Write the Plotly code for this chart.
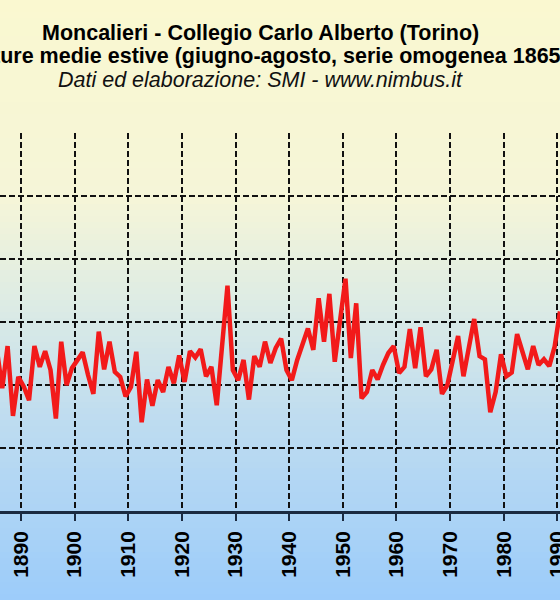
import plotly.graph_objects as go

# Moncalieri summer (Jun-Aug) mean temperature
years = list(range(1885, 1991))
temps = [
    21.56, 20.95, 21.62, 20.51, 21.13,                                  # 1885-1889
    20.98, 20.76, 21.62, 21.29, 21.54, 21.24, 20.47, 21.69, 21.00, 21.27,  # 1890s
    21.41, 21.52, 21.16, 20.86, 21.85, 21.25, 21.69, 21.21, 21.13, 20.82,  # 1900s
    20.97, 21.53, 20.41, 21.09, 20.67, 21.08, 20.89, 21.29, 21.03, 21.47,  # 1910s
    21.05, 21.54, 21.44, 21.57, 21.14, 21.29, 20.68, 21.64, 22.58, 21.24,  # 1920s
    21.08, 21.40, 20.77, 21.46, 21.29, 21.69, 21.35, 21.59, 21.74, 21.24,  # 1930s
    21.08, 21.40, 21.66, 21.90, 21.56, 22.38, 21.69, 22.45, 21.37, 22.09,  # 1940s
    22.69, 21.43, 22.30, 20.79, 20.89, 21.24, 21.09, 21.32, 21.51, 21.62,  # 1950s
    21.19, 21.29, 21.89, 21.27, 21.92, 21.14, 21.25, 21.56, 20.86, 21.00,  # 1960s
    21.40, 21.78, 21.14, 21.61, 22.05, 21.46, 21.41, 20.57, 20.89, 21.49,  # 1970s
    21.14, 21.20, 21.81, 21.53, 21.25, 21.62, 21.32, 21.41, 21.30, 21.61,  # 1980s
    22.17,                                                              # 1990
]

title_1 = "Moncalieri - Collegio Carlo Alberto (Torino)"
title_2 = "Temperature medie estive (giugno-agosto, serie omogenea 1865"
title_3 = "Dati ed elaborazione: SMI - www.nimbus.it"

W, H = 560, 600
TOP, BOT = 133, 511  # plot area in pixels


def py(p):
    return (BOT - p) / (BOT - TOP)


def px(p):
    return p / W


# yellow -> light blue background gradient
stops = [(0, (250, 248, 208)), (200, (245, 245, 216)), (300, (222, 236, 228)),
         (420, (190, 220, 240)), (600, (156, 204, 250))]


def grad(p):
    for (a, ca), (b, cb) in zip(stops[:-1], stops[1:]):
        if a <= p <= b:
            t = (p - a) / (b - a)
            c = [round(ca[i] + (cb[i] - ca[i]) * t) for i in range(3)]
            return f"rgb({c[0]},{c[1]},{c[2]})"
    return "rgb(156,204,250)"


shapes = []
step = 6
for p in range(0, H, step):
    shapes.append(dict(type="rect", xref="paper", yref="paper", layer="below",
                       x0=0, x1=1, y0=py(p + step + 1), y1=py(p),
                       fillcolor=grad(p + step / 2), line_width=0))

fig = go.Figure(go.Scatter(
    x=[f"{y}-07-02" for y in years],
    y=temps,
    mode="lines",
    line=dict(color="#f21a1a", width=4.5),
    hoverinfo="x+y",
))

font = "Liberation Sans, Arial, sans-serif"
annotations = [
    dict(text=title_1, x=px(260), y=py(33), xanchor="center", yanchor="middle",
         font=dict(family=font, size=21.5, color="black", weight=700)),
    dict(text=title_2, x=px(-97), y=py(56), xanchor="left", yanchor="middle",
         font=dict(family=font, size=21.5, color="black", weight=700)),
    dict(text=title_3, x=px(260), y=py(80), xanchor="center", yanchor="middle",
         font=dict(family=font, size=21.5, color="#111111", style="italic")),
]
for a in annotations:
    a.update(xref="paper", yref="paper", showarrow=False)

fig.update_layout(
    template="none",
    width=W, height=H,
    margin=dict(l=0, r=0, t=TOP, b=H - BOT, pad=0),
    paper_bgcolor="rgba(0,0,0,0)",
    plot_bgcolor="rgba(0,0,0,0)",
    showlegend=False,
    shapes=shapes,
    annotations=annotations,
)
fig.update_xaxes(
    type="date",
    range=["1886-01-31", "1990-07-02"],
    tick0="1890-01-01", dtick="M120", tickformat="%Y",
    tickangle=-90,
    tickfont=dict(family=font, size=21, color="black", weight=700),
    ticks="outside", ticklen=7, tickwidth=2, tickcolor="#1b2a40",
    ticklabelstandoff=2, ticklabeloverflow="allow",
    showline=True, linecolor="#1b2a40", linewidth=2.5,
    showgrid=True, gridcolor="#111111", gridwidth=2, griddash="6px,3px",
    zeroline=False, automargin=False,
)
fig.update_yaxes(
    range=[19, 25.005], dtick=1,
    showticklabels=False, ticks="",
    showgrid=True, gridcolor="#111111", gridwidth=2, griddash="6px,3px",
    zeroline=False, showline=False, automargin=False,
)

# drop the browser's default 8px body margin so the figure sits at (0, 0)
fig.write_html("out.html", config={"displayModeBar": False},
               post_script="document.body.style.margin='0';"
                           "document.body.style.overflow='hidden';")
